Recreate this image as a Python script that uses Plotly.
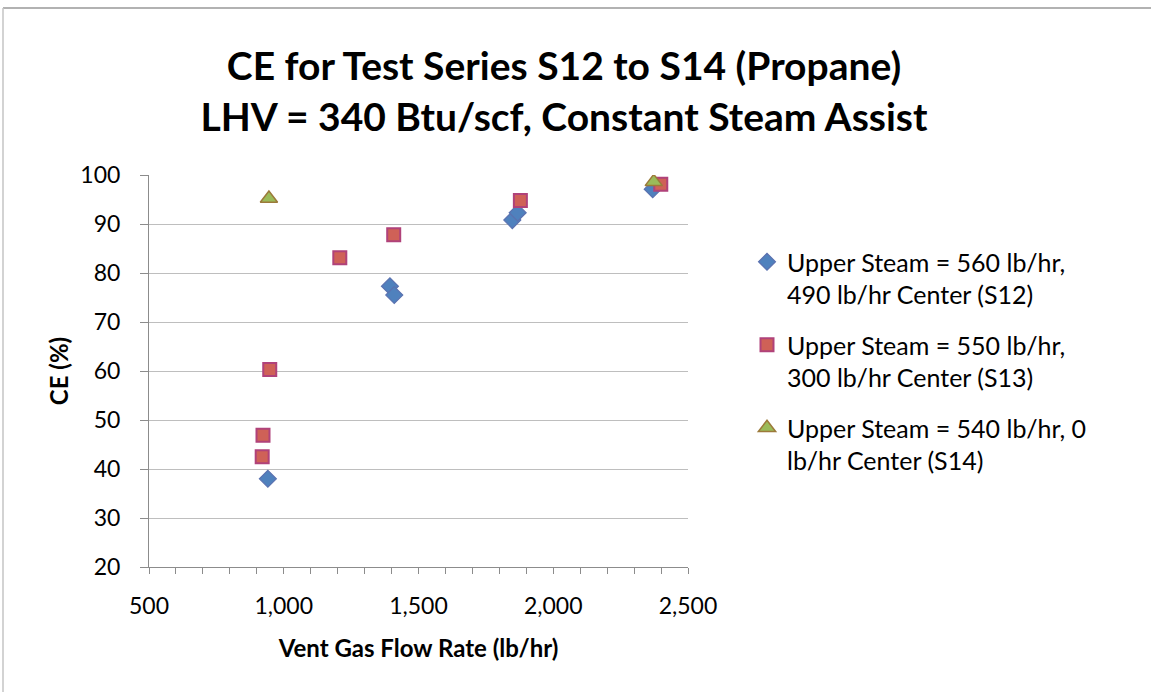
import plotly.graph_objects as go

# ---- data ----
s12_x = [941, 1394, 1410, 1848, 1868, 2369]
s12_y = [38.0, 77.3, 75.5, 90.8, 92.3, 97.1]
s13_x = [920, 923, 948, 1208, 1408, 1878, 2399]
s13_y = [42.5, 46.9, 60.3, 83.1, 87.8, 94.8, 98.1]
s14_x = [945, 2373]
s14_y = [95.2, 98.6]

names = [
    "Upper Steam = 560 lb/hr,<br>490 lb/hr Center (S12)",
    "Upper Steam = 550 lb/hr,<br>300 lb/hr Center (S13)",
    "Upper Steam = 540 lb/hr, 0<br>lb/hr Center (S14)",
]
title_lines = ["CE for Test Series S12 to S14 (Propane)",
               "LHV = 340 Btu/scf, Constant Steam Assist"]
x_title = "Vent Gas Flow Rate (lb/hr)"
y_title = "CE (%)"

FONT = "Lato, Carlito, 'Open Sans', sans-serif"
W, H = 1151, 692
# plot-area edges in page pixels
L, R, T, B = 149, 688, 175, 567

fig = go.Figure()
fig.add_trace(go.Scatter(
    x=s12_x, y=s12_y, mode="markers", name=names[0], legendgroup="a",
    marker=dict(symbol="diamond", size=13, color="#4F81BD",
                line=dict(color="#5B72B0", width=1.2))))
fig.add_trace(go.Scatter(
    x=s13_x, y=s13_y, mode="markers", name=names[1], legendgroup="b",
    marker=dict(symbol="square", size=13, color="#CF6157",
                line=dict(color="#B0427A", width=2))))
fig.add_trace(go.Scatter(
    x=s14_x, y=s14_y, mode="markers", name=names[2], legendgroup="c",
    marker=dict(symbol="triangle-up", size=15, color="#9BBB59",
                line=dict(color="#9C7A3A", width=1.5))))

def px_x(p):
    return (p - L) / (R - L)

def px_y(p):
    return (B - p) / (B - T)

fig.update_layout(
    width=W, height=H,
    margin=dict(l=L, r=W - R, t=T, b=H - B),
    paper_bgcolor="white", plot_bgcolor="white",
    font=dict(family=FONT, color="black", size=23),
    title=dict(text="<b>" + title_lines[0] + "<br>" + title_lines[1] + "</b>",
               x=564 / W, xanchor="center", xref="container",
               y=1 - 80 / H, yanchor="middle", yref="container",
               font=dict(size=39, family=FONT)),
    showlegend=True,
    legend=dict(x=px_x(747), y=px_y(239), xanchor="left", yanchor="top",
                font=dict(size=25, family=FONT), traceorder="grouped",
                tracegroupgap=15, itemwidth=30, valign="top",
                bgcolor="rgba(0,0,0,0)"),
    xaxis=dict(range=[500, 2500], dtick=500, tick0=500, tickformat=",d",
               showgrid=False, zeroline=False,
               showline=True, linecolor="#8C8C8C", linewidth=1,
               ticks="outside", ticklen=6, tickcolor="#8C8C8C",
               ticklabelstandoff=12,
               tickfont=dict(size=23),
               minor=dict(dtick=100, ticks="outside", ticklen=6,
                          tickcolor="#8C8C8C", showgrid=False),
               title=dict(text="<b>" + x_title + "</b>", standoff=22,
                          font=dict(size=24, family=FONT))),
    yaxis=dict(range=[20, 100], dtick=10, tick0=20,
               showgrid=True, gridcolor="#BEBEBE", gridwidth=1,
               zeroline=False,
               showline=True, linecolor="#8C8C8C", linewidth=1,
               ticks="outside", ticklen=8, tickcolor="#8C8C8C",
               ticklabelstandoff=15,
               tickfont=dict(size=23),
               title=dict(text="<b>" + y_title + "</b>", standoff=4,
                          font=dict(size=24, family=FONT))),
)

# chart-area frame (top and left edges visible in the picture)
fig.add_shape(type="line", xref="paper", yref="paper",
              x0=px_x(3), x1=px_x(1170), y0=px_y(8), y1=px_y(8),
              line=dict(color="#999999", width=1.5))
fig.add_shape(type="line", xref="paper", yref="paper",
              x0=px_x(3), x1=px_x(3), y0=px_y(8), y1=px_y(710),
              line=dict(color="#C4C4C4", width=1.5))

fig.write_html("out.html",
               config={"displayModeBar": False},
               post_script="document.body.style.margin='0';"
                           "document.body.style.padding='0';")
